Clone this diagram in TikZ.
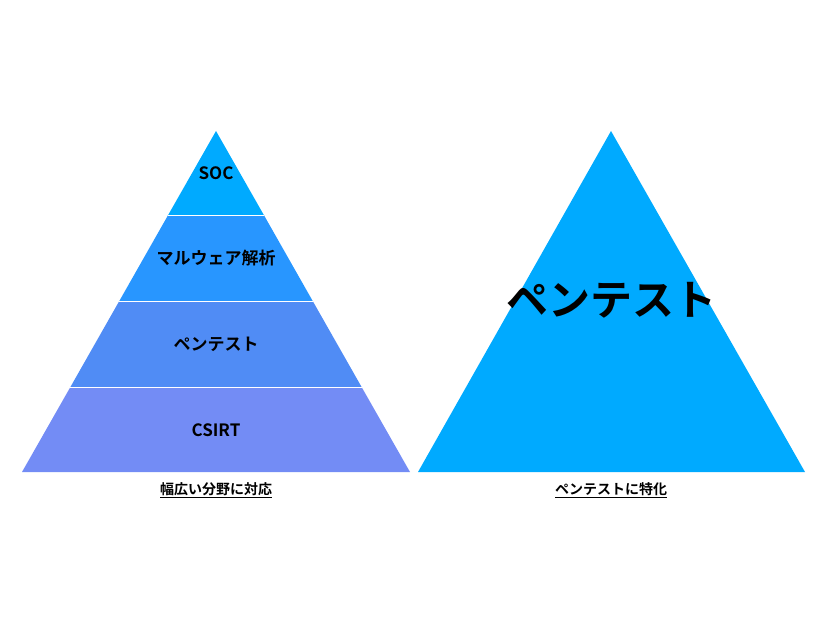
\documentclass[tikz,border=0pt]{standalone}
\usepackage{fontspec}
\newfontfamily\jp{Noto Sans CJK JP Bold}
\definecolor{bandA}{RGB}{0,170,255}
\definecolor{bandB}{RGB}{40,150,255}
\definecolor{bandC}{RGB}{80,140,245}
\definecolor{bandD}{RGB}{115,140,245}
\tikzset{lbl/.style={font=\jp\fontsize{17}{20}\selectfont}}
\begin{document}
\begin{tikzpicture}[x=1pt,y=-1pt]
  \useasboundingbox (0,0) rectangle (826,620);
  % left pyramid
  \fill[bandA] (216,131) -- (264.4,216) -- (167.6,216) -- cycle;
  \fill[bandB] (167.6,216) -- (264.4,216) -- (312.7,301) -- (119.3,301) -- cycle;
  \fill[bandC] (119.3,301) -- (312.7,301) -- (361.6,387) -- (70.4,387) -- cycle;
  \fill[bandD] (70.4,387) -- (361.6,387) -- (410,472) -- (22,472) -- cycle;
  \draw[white,line width=1pt] (167.6,216) -- (264.4,216) (119.3,301) -- (312.7,301) (70.4,387) -- (361.6,387);
  \node[lbl] (soc) at (216,173) {SOC};
  \node[lbl] (mal) at (216,258) {マルウェア解析};
  \node[lbl] (pen) at (216,344) {ペンテスト};
  \node[lbl] (csirt) at (216,430) {CSIRT};
  \node[font=\jp\fontsize{14}{16}\selectfont] (wide) at (216,490) {\underline{幅広い分野に対応}};
  % right pyramid
  \fill[bandA] (611,131) -- (805,472) -- (418,472) -- cycle;
  \node[font=\jp\fontsize{42}{48}\selectfont] (penbig) at (611,300) {ペンテスト};
  \node[font=\jp\fontsize{14}{16}\selectfont] (focus) at (611,490) {\underline{ペンテストに特化}};
\end{tikzpicture}
\end{document}
